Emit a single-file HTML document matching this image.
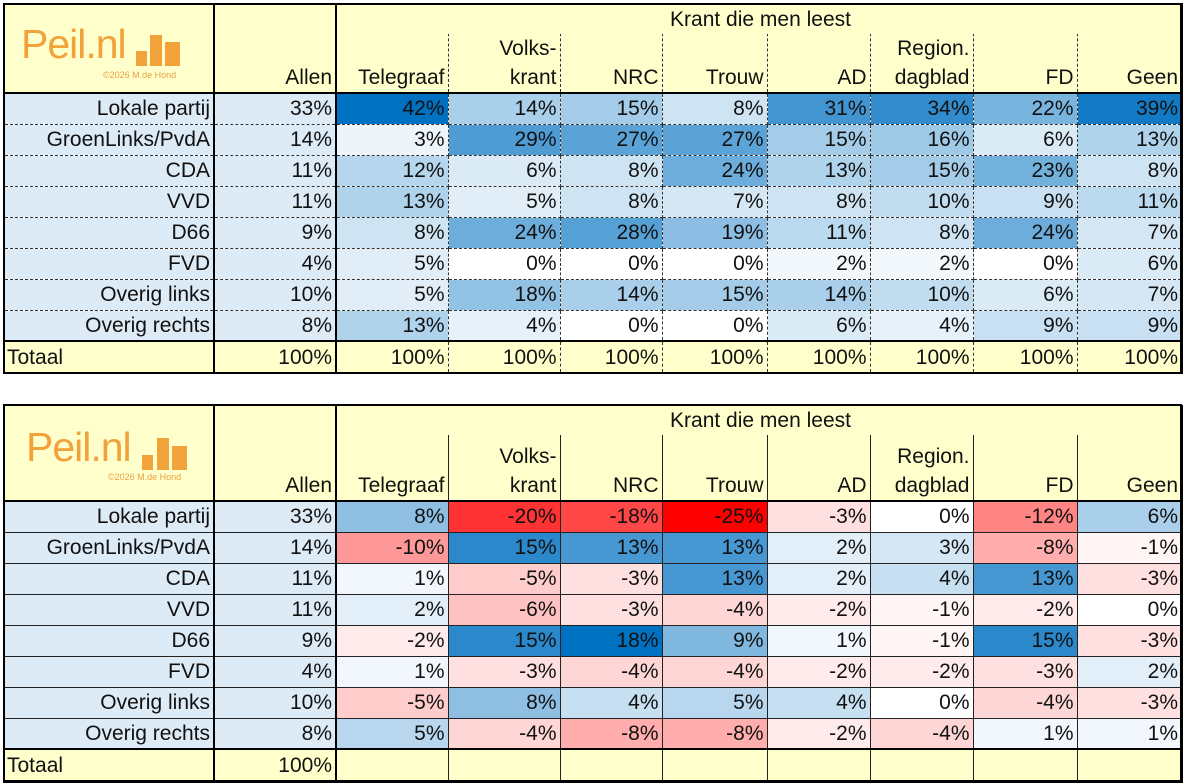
<!DOCTYPE html>
<html><head><meta charset="utf-8"><style>
body{margin:0;width:1184px;height:782px;background:#fff;position:relative;overflow:hidden;font-family:"Liberation Sans",sans-serif;font-size:21px;color:#111}
table{position:absolute;left:3px;border-collapse:collapse;table-layout:fixed}
td{padding:0 3px 0 2px;text-align:right;white-space:nowrap;overflow:hidden;line-height:27px}
.t td{border:1px dashed #333}
.b td{border:1px solid #222}
td.lab{background:#DDEBF7;border-left:2px solid #000;border-right:2px solid #000}
td.al{background:#DDEBF7;border-right:2px solid #000}
td.h,td.h.lab,td.h.al{background:#FFFFCC;vertical-align:bottom;border-top:none;border-bottom:2px solid #000;line-height:29px}
tr.tot td{background:#FFFFCC;border-top:2px solid #000;border-bottom:2px solid #000}
tr.tot td.lab{text-align:left;background:#FFFFCC}
tr.tot td.al{background:#FFFFCC}
td.last{border-right:2px solid #000}
.logo{position:absolute;color:#F2A23A;font-size:41px;font-family:"Liberation Sans",sans-serif;letter-spacing:-1px}
.copy{position:absolute;color:#E8A040;font-size:9px}
.bar{position:absolute;background:#F2A23A}
.kr{position:absolute;left:447px;width:733px;height:29px;background:#FFFFCC;text-align:center;font-size:21px;line-height:29px}
.kr span{position:relative;left:-53px}
.frame{position:absolute;border:2px solid #000;box-sizing:border-box;pointer-events:none}
</style></head><body>

<table class="t" style="top:3px;width:1178px">
<colgroup><col style="width:210px"><col style="width:122px"><col style="width:112px"><col style="width:112px"><col style="width:102px"><col style="width:105px"><col style="width:103px"><col style="width:103px"><col style="width:104px"><col style="width:105px"></colgroup>
<tr style="height:90px"><td class="h lab"></td><td class="h al">Allen</td><td class="h" style="border-left:2px solid #000">Telegraaf</td><td class="h">Volks-<br>krant</td><td class="h">NRC</td><td class="h">Trouw</td><td class="h">AD</td><td class="h">Region.<br>dagblad</td><td class="h">FD</td><td class="h last">Geen</td></tr>
<tr style="height:31px"><td class="lab">Lokale partij</td><td class="al">33%</td><td class="c">42%</td><td class="c">14%</td><td class="c">15%</td><td class="c">8%</td><td class="c">31%</td><td class="c">34%</td><td class="c">22%</td><td class="c last">39%</td></tr>
<tr style="height:31px"><td class="lab">GroenLinks/PvdA</td><td class="al">14%</td><td class="c">3%</td><td class="c">29%</td><td class="c">27%</td><td class="c">27%</td><td class="c">15%</td><td class="c">16%</td><td class="c">6%</td><td class="c last">13%</td></tr>
<tr style="height:31px"><td class="lab">CDA</td><td class="al">11%</td><td class="c">12%</td><td class="c">6%</td><td class="c">8%</td><td class="c">24%</td><td class="c">13%</td><td class="c">15%</td><td class="c">23%</td><td class="c last">8%</td></tr>
<tr style="height:31px"><td class="lab">VVD</td><td class="al">11%</td><td class="c">13%</td><td class="c">5%</td><td class="c">8%</td><td class="c">7%</td><td class="c">8%</td><td class="c">10%</td><td class="c">9%</td><td class="c last">11%</td></tr>
<tr style="height:31px"><td class="lab">D66</td><td class="al">9%</td><td class="c">8%</td><td class="c">24%</td><td class="c">28%</td><td class="c">19%</td><td class="c">11%</td><td class="c">8%</td><td class="c">24%</td><td class="c last">7%</td></tr>
<tr style="height:31px"><td class="lab">FVD</td><td class="al">4%</td><td class="c">5%</td><td class="c">0%</td><td class="c">0%</td><td class="c">0%</td><td class="c">2%</td><td class="c">2%</td><td class="c">0%</td><td class="c last">6%</td></tr>
<tr style="height:31px"><td class="lab">Overig links</td><td class="al">10%</td><td class="c">5%</td><td class="c">18%</td><td class="c">14%</td><td class="c">15%</td><td class="c">14%</td><td class="c">10%</td><td class="c">6%</td><td class="c last">7%</td></tr>
<tr style="height:31px"><td class="lab">Overig rechts</td><td class="al">8%</td><td class="c">13%</td><td class="c">4%</td><td class="c">0%</td><td class="c">0%</td><td class="c">6%</td><td class="c">4%</td><td class="c">9%</td><td class="c last">9%</td></tr>
<tr class="tot" style="height:32px"><td class="lab">Totaal</td><td class="al">100%</td><td style="border-left:2px solid #000">100%</td><td>100%</td><td>100%</td><td>100%</td><td>100%</td><td>100%</td><td>100%</td><td class="last">100%</td></tr>
</table>

<table class="b" style="top:404px;width:1178px">
<colgroup><col style="width:210px"><col style="width:122px"><col style="width:112px"><col style="width:112px"><col style="width:102px"><col style="width:105px"><col style="width:103px"><col style="width:103px"><col style="width:104px"><col style="width:105px"></colgroup>
<tr style="height:96px"><td class="h lab" style="border-top:2px solid #000"></td><td class="h al" style="border-top:2px solid #000">Allen</td><td class="h" style="border-left:2px solid #000;border-right:1px dashed #333">Telegraaf</td><td class="h" style="border-right:1px dashed #333">Volks-<br>krant</td><td class="h" style="border-right:1px dashed #333">NRC</td><td class="h" style="border-right:1px dashed #333">Trouw</td><td class="h" style="border-right:1px dashed #333">AD</td><td class="h" style="border-right:1px dashed #333">Region.<br>dagblad</td><td class="h" style="border-right:1px dashed #333">FD</td><td class="h last">Geen</td></tr>
<tr style="height:31px"><td class="lab">Lokale partij</td><td class="al">33%</td><td class="d">8%</td><td class="d">-20%</td><td class="d">-18%</td><td class="d">-25%</td><td class="d">-3%</td><td class="d">0%</td><td class="d">-12%</td><td class="d last">6%</td></tr>
<tr style="height:31px"><td class="lab">GroenLinks/PvdA</td><td class="al">14%</td><td class="d">-10%</td><td class="d">15%</td><td class="d">13%</td><td class="d">13%</td><td class="d">2%</td><td class="d">3%</td><td class="d">-8%</td><td class="d last">-1%</td></tr>
<tr style="height:31px"><td class="lab">CDA</td><td class="al">11%</td><td class="d">1%</td><td class="d">-5%</td><td class="d">-3%</td><td class="d">13%</td><td class="d">2%</td><td class="d">4%</td><td class="d">13%</td><td class="d last">-3%</td></tr>
<tr style="height:31px"><td class="lab">VVD</td><td class="al">11%</td><td class="d">2%</td><td class="d">-6%</td><td class="d">-3%</td><td class="d">-4%</td><td class="d">-2%</td><td class="d">-1%</td><td class="d">-2%</td><td class="d last">0%</td></tr>
<tr style="height:31px"><td class="lab">D66</td><td class="al">9%</td><td class="d">-2%</td><td class="d">15%</td><td class="d">18%</td><td class="d">9%</td><td class="d">1%</td><td class="d">-1%</td><td class="d">15%</td><td class="d last">-3%</td></tr>
<tr style="height:31px"><td class="lab">FVD</td><td class="al">4%</td><td class="d">1%</td><td class="d">-3%</td><td class="d">-4%</td><td class="d">-4%</td><td class="d">-2%</td><td class="d">-2%</td><td class="d">-3%</td><td class="d last">2%</td></tr>
<tr style="height:31px"><td class="lab">Overig links</td><td class="al">10%</td><td class="d">-5%</td><td class="d">8%</td><td class="d">4%</td><td class="d">5%</td><td class="d">4%</td><td class="d">0%</td><td class="d">-4%</td><td class="d last">-3%</td></tr>
<tr style="height:31px"><td class="lab">Overig rechts</td><td class="al">8%</td><td class="d">5%</td><td class="d">-4%</td><td class="d">-8%</td><td class="d">-8%</td><td class="d">-2%</td><td class="d">-4%</td><td class="d">1%</td><td class="d last">1%</td></tr>
<tr class="tot" style="height:33px"><td class="lab">Totaal</td><td class="al">100%</td><td style="border-left:2px solid #000"></td><td></td><td></td><td></td><td></td><td></td><td></td><td class="last"></td></tr>
</table>

<div class="kr" style="top:5px"><span>Krant die men leest</span></div>
<div class="kr" style="top:406px"><span>Krant die men leest</span></div>
<div class="frame" style="left:3px;top:3px;width:1179px;height:371px"></div>
<div class="frame" style="left:3px;top:404px;width:1179px;height:378px"></div>

<div class="logo" style="left:21px;top:21px">Peil.nl</div>
<div class="bar" style="left:136px;top:51px;width:11px;height:15px"></div>
<div class="bar" style="left:150px;top:35px;width:12px;height:31px"></div>
<div class="bar" style="left:165px;top:42px;width:15px;height:24px"></div>
<div class="copy" style="left:103px;top:70px">©2026 M.de Hond</div>

<div class="logo" style="left:26px;top:424px">Peil.nl</div>
<div class="bar" style="left:142px;top:455px;width:11px;height:15px"></div>
<div class="bar" style="left:157px;top:438px;width:12px;height:32px"></div>
<div class="bar" style="left:172px;top:446px;width:15px;height:24px"></div>
<div class="copy" style="left:108px;top:472px">©2026 M.de Hond</div>

<script>
function mix(a,b,t){return 'rgb('+a.map((v,i)=>Math.round(v+(b[i]-v)*t)).join(',')+')';}
var W=[255,255,255],B=[0,112,192],R=[255,0,0];
document.querySelectorAll('td.c').forEach(function(e){var v=parseFloat(e.textContent);e.style.background=mix(W,B,v/42);});
document.querySelectorAll('td.d').forEach(function(e){var v=parseFloat(e.textContent);e.style.background=v>=0?mix(W,B,v/18):mix(W,R,-v/25);});
</script>
</body></html>
